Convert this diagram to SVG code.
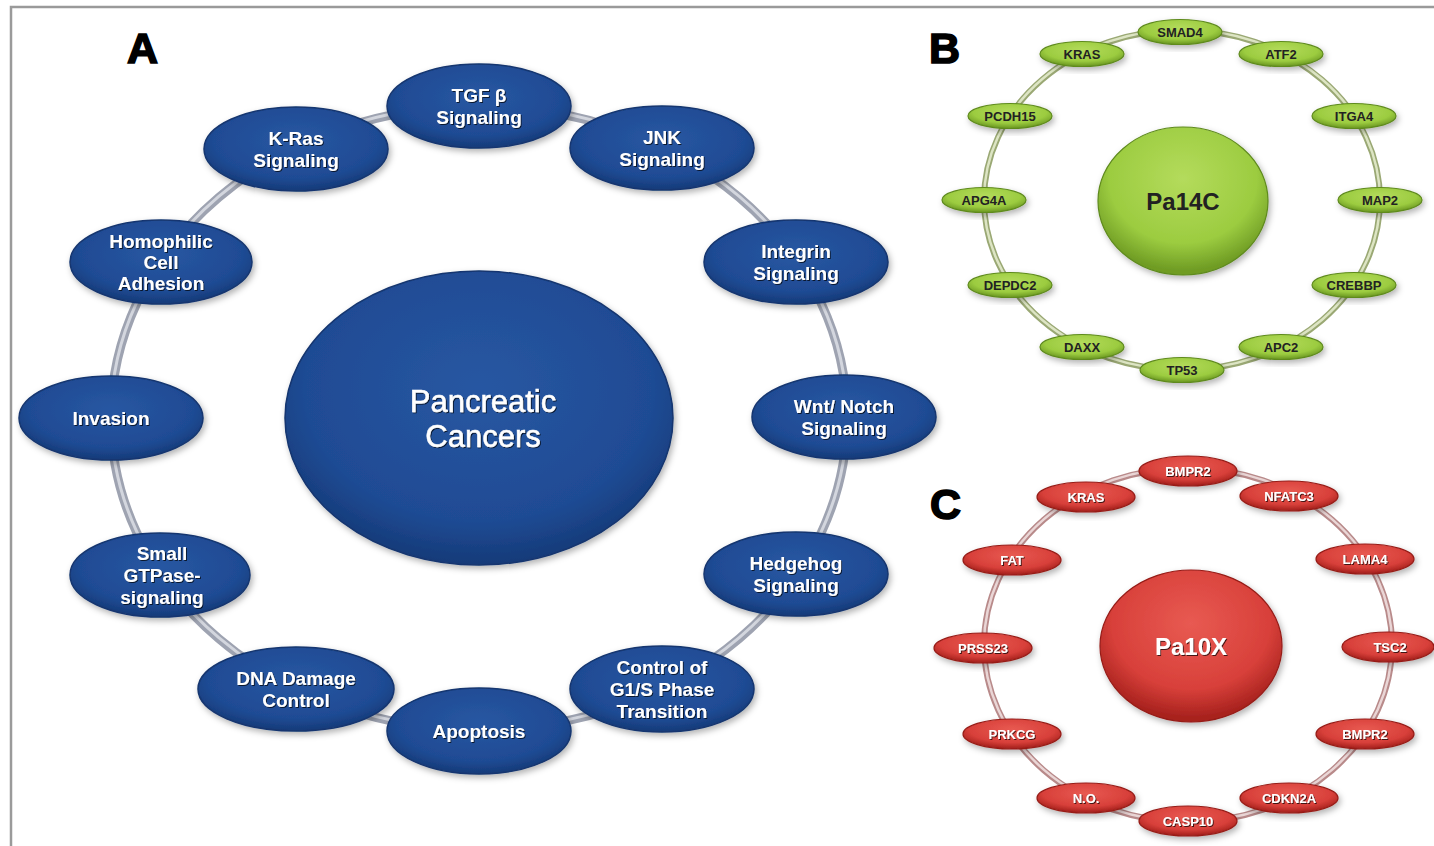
<svg xmlns="http://www.w3.org/2000/svg" width="1434" height="846" viewBox="0 0 1434 846">
<defs>
<radialGradient id="gBlue" cx="50%" cy="40%" r="60%">
<stop offset="0" stop-color="#2857a2"/><stop offset="0.75" stop-color="#1f4b94"/><stop offset="1" stop-color="#153a78"/>
</radialGradient>
<radialGradient id="gGreen" cx="50%" cy="35%" r="62%">
<stop offset="0" stop-color="#b4db5c"/><stop offset="0.7" stop-color="#9ccc40"/><stop offset="1" stop-color="#6f9c24"/>
</radialGradient>
<radialGradient id="gRed" cx="50%" cy="35%" r="62%">
<stop offset="0" stop-color="#e85a52"/><stop offset="0.7" stop-color="#d8403a"/><stop offset="1" stop-color="#a8221e"/>
</radialGradient>
<filter id="sh" x="-20%" y="-20%" width="140%" height="150%">
<feDropShadow dx="2" dy="3" stdDeviation="3" flood-color="#000" flood-opacity="0.3"/>
</filter>
<filter id="tsh" x="-10%" y="-20%" width="120%" height="150%">
<feDropShadow dx="1" dy="1" stdDeviation="0.6" flood-color="#000" flood-opacity="0.7"/>
</filter>
</defs>
<style>
.blue ellipse{fill:url(#gBlue);stroke:#14366f;stroke-width:1.5;filter:url(#sh)}
.green ellipse{fill:url(#gGreen);stroke:#5e8a1c;stroke-width:1.2;filter:url(#sh)}
.red ellipse{fill:url(#gRed);stroke:#961c18;stroke-width:1.2;filter:url(#sh)}
.tA{font-family:"Liberation Sans",Arial,sans-serif;font-weight:bold;font-size:19px;fill:#fff;text-anchor:middle;filter:url(#tsh)}
.tB{font-family:"Liberation Sans",Arial,sans-serif;font-weight:bold;font-size:13px;fill:#222;text-anchor:middle}
.tC{font-family:"Liberation Sans",Arial,sans-serif;font-weight:bold;font-size:13px;fill:#fff;text-anchor:middle;filter:url(#tsh)}
.lbl{font-family:"Liberation Sans",Arial,sans-serif;font-weight:bold;font-size:43px;fill:#000;stroke:#000;stroke-width:1.6}
.ringA{fill:none;stroke:#9ea3b1;stroke-width:9}
.ringAh{fill:none;stroke:#d3d6de;stroke-width:3}
.ringB{fill:none;stroke:#9aa874;stroke-width:6}
.ringBh{fill:none;stroke:#dde5c4;stroke-width:2.5}
.ringC{fill:none;stroke:#b88a8a;stroke-width:6}
.ringCh{fill:none;stroke:#ead6d6;stroke-width:2.5}
</style>
<rect width="1434" height="846" fill="#fff"/>
<path d="M11,846 V7 H1434" fill="none" stroke="#9a9a9a" stroke-width="2.5"/>

<text class="lbl" x="127" y="63">A</text>
<text class="lbl" x="929" y="63">B</text>
<text class="lbl" x="930" y="519">C</text>

<g id="connectors">
<ellipse class="ringA" cx="479" cy="418" rx="368" ry="312"/>
<ellipse class="ringAh" cx="479" cy="417" rx="368" ry="312"/>
<ellipse class="ringB" cx="1182" cy="200" rx="198" ry="170"/>
<ellipse class="ringBh" cx="1182" cy="199.5" rx="198" ry="170"/>
<ellipse class="ringC" cx="1188" cy="645" rx="204" ry="177"/>
<ellipse class="ringCh" cx="1188" cy="644.5" rx="204" ry="177"/>
</g>

<!-- Panel A -->
<g id="pancreatic" class="blue"><ellipse cx="479" cy="418" rx="194" ry="147"/>
<text class="tA" style="font-size:31px;font-weight:normal;stroke:#fff;stroke-width:0.5" x="483" y="412">Pancreatic</text>
<text class="tA" style="font-size:31px;font-weight:normal;stroke:#fff;stroke-width:0.5" x="483" y="447">Cancers</text></g>
<g id="tgf" class="blue"><ellipse cx="479" cy="106" rx="92" ry="42"/><text class="tA" x="479" y="102">TGF β</text><text class="tA" x="479" y="124">Signaling</text></g>
<g id="jnk" class="blue"><ellipse cx="662" cy="148" rx="92" ry="42"/><text class="tA" x="662" y="144">JNK</text><text class="tA" x="662" y="166">Signaling</text></g>
<g id="integrin" class="blue"><ellipse cx="796" cy="262" rx="92" ry="42"/><text class="tA" x="796" y="258">Integrin</text><text class="tA" x="796" y="280">Signaling</text></g>
<g id="wnt" class="blue"><ellipse cx="844" cy="417" rx="92" ry="42"/><text class="tA" x="844" y="413">Wnt/ Notch</text><text class="tA" x="844" y="435">Signaling</text></g>
<g id="hedgehog" class="blue"><ellipse cx="796" cy="574" rx="92" ry="42"/><text class="tA" x="796" y="570">Hedgehog</text><text class="tA" x="796" y="592">Signaling</text></g>
<g id="g1s" class="blue"><ellipse cx="662" cy="689" rx="92" ry="43"/><text class="tA" x="662" y="674">Control of</text><text class="tA" x="662" y="696">G1/S Phase</text><text class="tA" x="662" y="718">Transition</text></g>
<g id="apoptosis" class="blue"><ellipse cx="479" cy="731" rx="92" ry="43"/><text class="tA" x="479" y="738">Apoptosis</text></g>
<g id="dna" class="blue"><ellipse cx="296" cy="689" rx="98" ry="42"/><text class="tA" x="296" y="685">DNA Damage</text><text class="tA" x="296" y="707">Control</text></g>
<g id="gtpase" class="blue"><ellipse cx="160" cy="575" rx="90" ry="42"/><text class="tA" x="162" y="560">Small</text><text class="tA" x="162" y="582">GTPase-</text><text class="tA" x="162" y="604">signaling</text></g>
<g id="invasion" class="blue"><ellipse cx="111" cy="418" rx="92" ry="42"/><text class="tA" x="111" y="425">Invasion</text></g>
<g id="homophilic" class="blue"><ellipse cx="161" cy="262" rx="91" ry="42"/><text class="tA" x="161" y="248">Homophilic</text><text class="tA" x="161" y="269">Cell</text><text class="tA" x="161" y="290">Adhesion</text></g>
<g id="kras" class="blue"><ellipse cx="296" cy="149" rx="92" ry="42"/><text class="tA" x="296" y="145">K-Ras</text><text class="tA" x="296" y="167">Signaling</text></g>

<!-- Panel B -->
<g id="pa14c" class="green"><ellipse cx="1183" cy="201" rx="85" ry="74"/><text class="tB" style="font-size:24px" x="1183" y="210">Pa14C</text></g>
<g id="b-smad4" class="green"><ellipse cx="1180" cy="32" rx="42" ry="12.5"/><text class="tB" x="1180" y="36.5">SMAD4</text></g>
<g id="b-atf2" class="green"><ellipse cx="1281" cy="54" rx="42" ry="12.5"/><text class="tB" x="1281" y="58.5">ATF2</text></g>
<g id="b-itga4" class="green"><ellipse cx="1354" cy="116" rx="42" ry="12.5"/><text class="tB" x="1354" y="120.5">ITGA4</text></g>
<g id="b-map2" class="green"><ellipse cx="1380" cy="200" rx="42" ry="12.5"/><text class="tB" x="1380" y="204.5">MAP2</text></g>
<g id="b-crebbp" class="green"><ellipse cx="1354" cy="285" rx="42" ry="12.5"/><text class="tB" x="1354" y="289.5">CREBBP</text></g>
<g id="b-apc2" class="green"><ellipse cx="1281" cy="347" rx="42" ry="12.5"/><text class="tB" x="1281" y="351.5">APC2</text></g>
<g id="b-tp53" class="green"><ellipse cx="1182" cy="370" rx="42" ry="12.5"/><text class="tB" x="1182" y="374.5">TP53</text></g>
<g id="b-daxx" class="green"><ellipse cx="1082" cy="347" rx="42" ry="12.5"/><text class="tB" x="1082" y="351.5">DAXX</text></g>
<g id="b-depdc2" class="green"><ellipse cx="1010" cy="285" rx="42" ry="12.5"/><text class="tB" x="1010" y="289.5">DEPDC2</text></g>
<g id="b-apg4a" class="green"><ellipse cx="984" cy="200" rx="42" ry="12.5"/><text class="tB" x="984" y="204.5">APG4A</text></g>
<g id="b-pcdh15" class="green"><ellipse cx="1010" cy="116" rx="42" ry="12.5"/><text class="tB" x="1010" y="120.5">PCDH15</text></g>
<g id="b-kras" class="green"><ellipse cx="1082" cy="54" rx="42" ry="12.5"/><text class="tB" x="1082" y="58.5">KRAS</text></g>

<!-- Panel C -->
<g id="pa10x" class="red"><ellipse cx="1191" cy="646" rx="91" ry="76"/><text class="tC" style="font-size:24px" x="1191" y="655">Pa10X</text></g>
<g id="c-bmpr2a" class="red"><ellipse cx="1188" cy="471" rx="49" ry="15"/><text class="tC" x="1188" y="475.5">BMPR2</text></g>
<g id="c-nfatc3" class="red"><ellipse cx="1289" cy="496" rx="49" ry="15"/><text class="tC" x="1289" y="500.5">NFATC3</text></g>
<g id="c-lama4" class="red"><ellipse cx="1365" cy="559" rx="49" ry="15"/><text class="tC" x="1365" y="563.5">LAMA4</text></g>
<g id="c-tsc2" class="red"><ellipse cx="1388" cy="647" rx="46" ry="15"/><text class="tC" x="1390" y="651.5">TSC2</text></g>
<g id="c-bmpr2b" class="red"><ellipse cx="1365" cy="734" rx="49" ry="15"/><text class="tC" x="1365" y="738.5">BMPR2</text></g>
<g id="c-cdkn2a" class="red"><ellipse cx="1289" cy="798" rx="49" ry="15"/><text class="tC" x="1289" y="802.5">CDKN2A</text></g>
<g id="c-casp10" class="red"><ellipse cx="1188" cy="821" rx="49" ry="15"/><text class="tC" x="1188" y="825.5">CASP10</text></g>
<g id="c-no" class="red"><ellipse cx="1086" cy="798" rx="49" ry="15"/><text class="tC" x="1086" y="802.5">N.O.</text></g>
<g id="c-prkcg" class="red"><ellipse cx="1012" cy="734" rx="49" ry="15"/><text class="tC" x="1012" y="738.5">PRKCG</text></g>
<g id="c-prss23" class="red"><ellipse cx="983" cy="648" rx="49" ry="15"/><text class="tC" x="983" y="652.5">PRSS23</text></g>
<g id="c-fat" class="red"><ellipse cx="1012" cy="560" rx="49" ry="15"/><text class="tC" x="1012" y="564.5">FAT</text></g>
<g id="c-kras" class="red"><ellipse cx="1086" cy="497" rx="49" ry="15"/><text class="tC" x="1086" y="501.5">KRAS</text></g>
</svg>
